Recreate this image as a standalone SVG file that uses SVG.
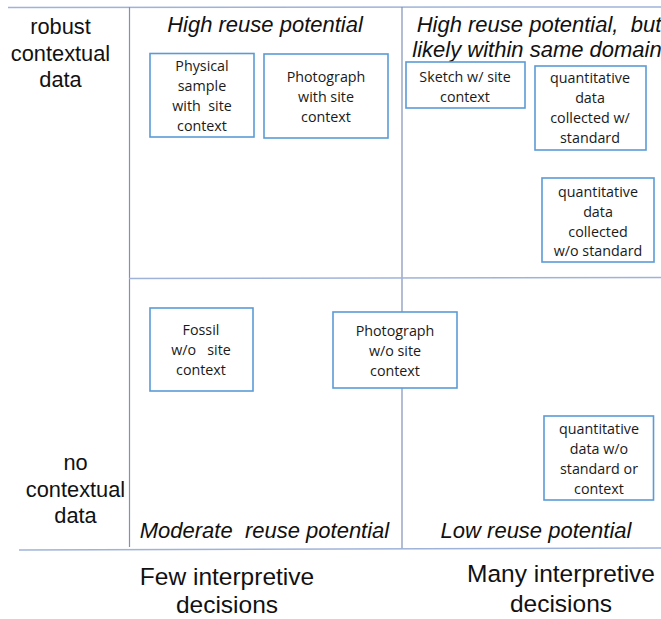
<svg xmlns="http://www.w3.org/2000/svg" width="661" height="619" viewBox="0 0 661 619">
<style>
.grid{stroke:#8090b8;stroke-width:1.2;fill:none}
.hl{stroke:#9fb3d9;stroke-width:1.5;fill:none}
.box{fill:#fff;stroke:#5b9bd5;stroke-width:1.6}
.bt{font-family:"Open Sans","Liberation Sans",sans-serif;font-size:14.3px;fill:#1a1a1a;text-anchor:middle}
.ax{font-family:"Liberation Sans",Arial,sans-serif;font-size:21.8px;fill:#111;text-anchor:middle}
.q{font-family:"Liberation Sans",Arial,sans-serif;font-size:22px;font-style:italic;fill:#111;text-anchor:middle}
.bx{font-family:"Liberation Sans",Arial,sans-serif;font-size:24.5px;fill:#111;text-anchor:middle}
</style>
<rect width="661" height="619" fill="#fff"/>
<g id="connectors">
<line class="hl" x1="8" y1="7.5" x2="661" y2="7"/>
<line class="grid" x1="129.5" y1="7" x2="129.5" y2="547"/>
<line class="grid" x1="402" y1="7" x2="402" y2="549"/>
<line class="hl" x1="129" y1="278.5" x2="661" y2="277.5"/>
<line class="hl" x1="19" y1="550" x2="661" y2="548"/>
</g>
<g id="axis-labels">
<text class="ax" x="60.5" y="34">robust</text>
<text class="ax" x="60.5" y="61">contextual</text>
<text class="ax" x="60.5" y="87">data</text>
<text class="ax" x="75.5" y="470">no</text>
<text class="ax" x="75.5" y="497">contextual</text>
<text class="ax" x="75.5" y="523">data</text>
<text class="bx" x="227" y="585">Few interpretive</text>
<text class="bx" x="227" y="613">decisions</text>
<text class="bx" x="561" y="582">Many interpretive</text>
<text class="bx" x="561" y="612">decisions</text>
</g>
<g id="quadrant-labels">
<text class="q" x="265" y="32">High reuse potential</text>
<text class="q" x="539" y="32" xml:space="preserve">High reuse potential,  but</text>
<text class="q" x="537" y="57">likely within same domain</text>
<text class="q" x="264.5" y="538" xml:space="preserve">Moderate  reuse potential</text>
<text class="q" x="536" y="538">Low reuse potential</text>
</g>
<g id="physical-sample">
<rect class="box" x="150" y="53.5" width="104" height="83.5"/>
<text class="bt" x="202" y="71">Physical</text>
<text class="bt" x="202" y="91">sample</text>
<text class="bt" x="202" y="111" xml:space="preserve">with  site</text>
<text class="bt" x="202" y="131">context</text>
</g>
<g id="photo-with-site">
<rect class="box" x="264" y="54" width="124" height="84"/>
<text class="bt" x="326" y="82">Photograph</text>
<text class="bt" x="326" y="102">with site</text>
<text class="bt" x="326" y="122">context</text>
</g>
<g id="sketch">
<rect class="box" x="406" y="62" width="119" height="46"/>
<text class="bt" x="465" y="82">Sketch w/ site</text>
<text class="bt" x="465" y="102">context</text>
</g>
<g id="quant-std">
<rect class="box" x="535" y="66" width="111" height="84"/>
<text class="bt" x="590" y="83">quantitative</text>
<text class="bt" x="590" y="103">data</text>
<text class="bt" x="590" y="123">collected w/</text>
<text class="bt" x="590" y="143">standard</text>
</g>
<g id="quant-nostd">
<rect class="box" x="542" y="178" width="112" height="84"/>
<text class="bt" x="598" y="197">quantitative</text>
<text class="bt" x="598" y="217">data</text>
<text class="bt" x="598" y="237">collected</text>
<text class="bt" x="598" y="256">w/o standard</text>
</g>
<g id="fossil">
<rect class="box" x="150" y="308" width="103" height="83"/>
<text class="bt" x="201" y="335">Fossil</text>
<text class="bt" x="201" y="355" xml:space="preserve">w/o   site</text>
<text class="bt" x="201" y="375">context</text>
</g>
<g id="photo-no-site">
<rect class="box" x="333" y="312" width="124" height="76"/>
<text class="bt" x="395" y="336">Photograph</text>
<text class="bt" x="395" y="356">w/o site</text>
<text class="bt" x="395" y="376">context</text>
</g>
<g id="quant-none">
<rect class="box" x="544" y="416" width="109.5" height="84"/>
<text class="bt" x="599" y="434">quantitative</text>
<text class="bt" x="599" y="454">data w/o</text>
<text class="bt" x="599" y="474">standard or</text>
<text class="bt" x="599" y="494">context</text>
</g>
</svg>
